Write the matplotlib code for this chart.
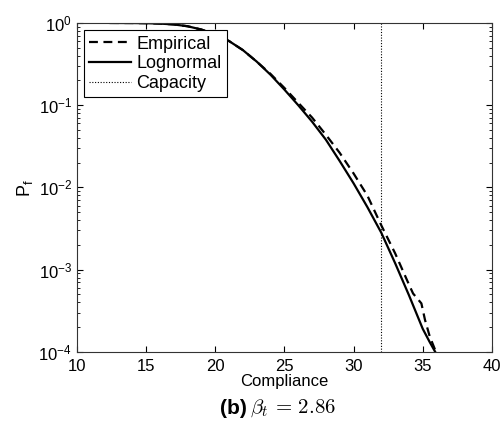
import matplotlib
matplotlib.use("Agg")
import matplotlib.pyplot as plt
import numpy as np

plt.rcParams['font.family'] = ['Liberation Sans', 'DejaVu Sans']
plt.rcParams['mathtext.fontset'] = 'cm'

# values (compliance, log10 of P_f)
comp_logn = [12.4, 14, 15, 16, 17, 18, 19, 20, 21, 22, 23, 24, 25, 26, 27,
             28, 29, 30, 31, 32, 33, 34, 35, 35.5, 35.9]
logpf_logn = [0.0, -0.001, -0.003, -0.008, -0.018, -0.04, -0.08, -0.14, -0.22,
              -0.33, -0.47, -0.63, -0.81, -1.00, -1.20, -1.42, -1.68, -1.95,
              -2.24, -2.55, -2.92, -3.31, -3.72, -3.88, -4.0]

comp_emp = [12.4, 14, 15, 16, 17, 18, 19, 20, 21, 22, 23, 24, 25, 26, 27,
            28, 29, 30, 31, 32, 33, 34, 34.3, 34.9, 35.16, 35.5, 35.95]
logpf_emp = [0.0, -0.001, -0.003, -0.008, -0.018, -0.04, -0.08, -0.14, -0.22,
             -0.33, -0.47, -0.62, -0.79, -0.97, -1.15, -1.36, -1.58, -1.83,
             -2.10, -2.46, -2.80, -3.18, -3.29, -3.41, -3.61, -3.81, -4.0]

capacity = 32

pf_logn = 10.0 ** np.array(logpf_logn)
pf_emp = 10.0 ** np.array(logpf_emp)

fig = plt.figure(figsize=(5.02, 4.25), dpi=100)
ax = fig.add_axes([0.153, 0.172, 0.827, 0.774])

ax.semilogy(comp_emp, pf_emp, color='black', linestyle=(0, (4, 2.5)), linewidth=1.6, label='Empirical')
ax.semilogy(comp_logn, pf_logn, color='black', linestyle='-', linewidth=1.6, label='Lognormal')
ax.axvline(capacity, color='black', linestyle=(0, (1, 1.5)), linewidth=0.8, label='Capacity')

ax.set_xlim(10, 40)
ax.set_ylim(1e-4, 1)
ax.set_xticks([10, 15, 20, 25, 30, 35, 40])
ax.tick_params(which='both', direction='in', top=True, right=True, labelsize=12)
ax.tick_params(which='major', length=4)
ax.tick_params(which='minor', length=2)
ax.tick_params(axis='x', pad=5)
for s in ax.spines.values():
    s.set_linewidth(0.8)
    s.set_color('#333333')

ax.set_xlabel('Compliance', fontsize=12, labelpad=0)
ax.set_ylabel(r'P$_\mathregular{f}$', fontsize=13, labelpad=2)

leg = ax.legend(loc='upper left', fontsize=13, fancybox=False, framealpha=1,
                edgecolor='black', handlelength=2.3, handletextpad=0.3,
                labelspacing=0.15, borderpad=0.3, borderaxespad=0.4)
leg.get_frame().set_linewidth(0.8)

fig.text(0.492, 0.04, '(b)', fontsize=15, fontweight='bold', ha='right', va='center')
fig.text(0.498, 0.04, r'$\beta_t\,=\,2.86$', fontsize=15, ha='left', va='center')

fig.savefig('out.png', dpi=100)
